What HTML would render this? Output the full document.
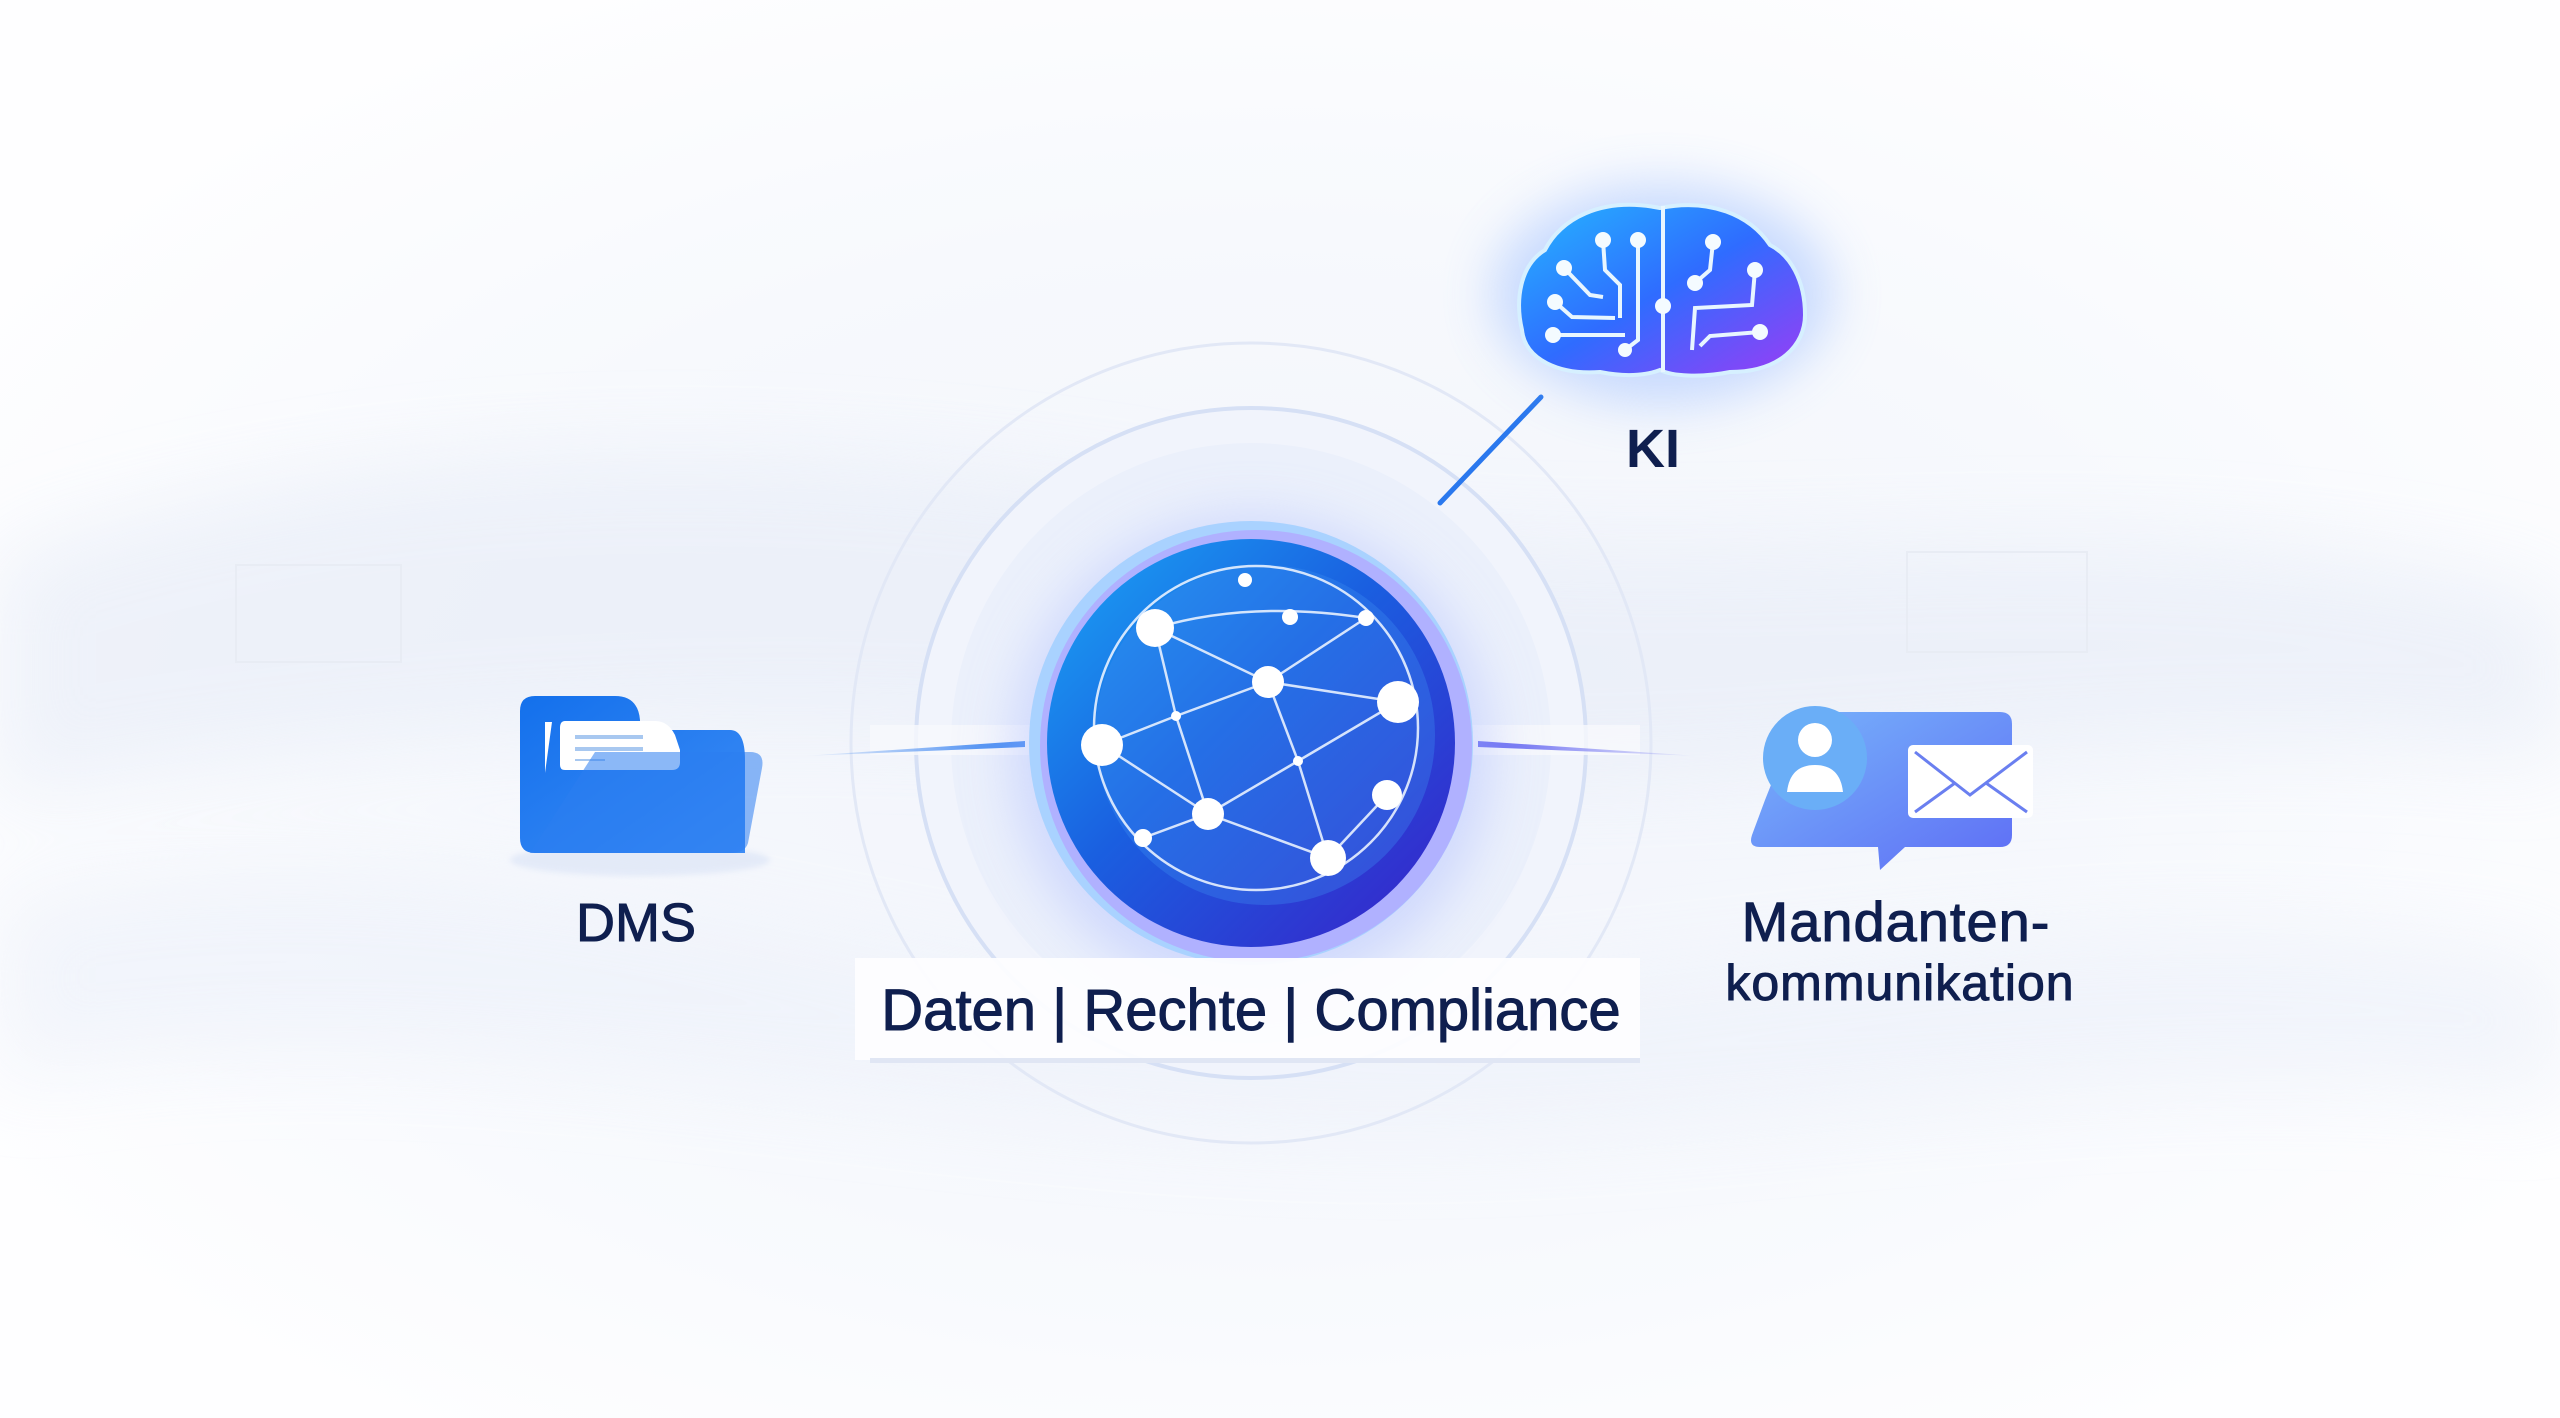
<!DOCTYPE html>
<html><head><meta charset="utf-8"><style>
html,body{margin:0;padding:0;width:2560px;height:1418px;overflow:hidden;background:#fbfcfe;}
svg{display:block}
text{font-family:"Liberation Sans","DejaVu Sans",sans-serif;fill:#0f1f4f;stroke:#0f1f4f;stroke-width:1}
</style></head><body>
<svg width="2560" height="1418" viewBox="0 0 2560 1418" xmlns="http://www.w3.org/2000/svg">
<defs>
<radialGradient id="bg" cx="50%" cy="52%" r="60%">
<stop offset="0" stop-color="#f1f4fb"/><stop offset="0.6" stop-color="#f7f9fd"/><stop offset="1" stop-color="#fefeff"/>
</radialGradient>
<linearGradient id="globe" x1="0" y1="0" x2="1" y2="1">
<stop offset="0" stop-color="#1aa6f5"/><stop offset="0.45" stop-color="#1a5fe0"/><stop offset="1" stop-color="#3a1fc8"/>
</linearGradient>
<linearGradient id="brain" x1="0" y1="0" x2="1" y2="1">
<stop offset="0" stop-color="#25b6ff"/><stop offset="0.5" stop-color="#2f6cff"/><stop offset="1" stop-color="#9b3cf5"/>
</linearGradient>
<linearGradient id="folder" x1="0" y1="0" x2="1" y2="1">
<stop offset="0" stop-color="#1370ec"/><stop offset="1" stop-color="#3d8cf5"/>
</linearGradient>
<linearGradient id="chat" x1="0" y1="0" x2="1" y2="1">
<stop offset="0" stop-color="#78b6fb"/><stop offset="1" stop-color="#5e6df5"/>
</linearGradient>
<linearGradient id="lineL" x1="0" x2="1"><stop offset="0" stop-color="#2d7cf0" stop-opacity="0"/><stop offset="1" stop-color="#2d7cf0"/></linearGradient>
<linearGradient id="lineR" x1="0" x2="1"><stop offset="0" stop-color="#5a5cf0"/><stop offset="1" stop-color="#5a5cf0" stop-opacity="0"/></linearGradient>
<filter id="blur" x="-50%" y="-50%" width="200%" height="200%"><feGaussianBlur stdDeviation="25"/></filter>
<filter id="wblur" x="-20%" y="-50%" width="140%" height="200%"><feGaussianBlur stdDeviation="40"/></filter>
<filter id="sblur"><feGaussianBlur stdDeviation="3"/></filter>
</defs>
<rect width="2560" height="1418" fill="url(#bg)"/>
<g filter="url(#wblur)" opacity="0.7">
<path d="M0 560 C400 420 900 440 1280 520 C1700 600 2100 480 2560 600 L2560 760 C2100 700 1700 820 1280 760 C900 700 400 720 0 800 Z" fill="#e9eef8"/>
<path d="M0 900 C500 800 900 1000 1280 1000 C1700 1000 2100 880 2560 960 L2560 1100 C2100 1040 1700 1150 1280 1130 C800 1110 400 1000 0 1080 Z" fill="#eef2fa"/>
</g>
<rect x="236" y="565" width="165" height="97" fill="none" stroke="#e8ecf4" stroke-width="2"/>
<rect x="1907" y="552" width="180" height="100" fill="none" stroke="#e8ecf4" stroke-width="2"/>

<!-- rings -->
<circle cx="1251" cy="743" r="400" fill="none" stroke="#e2e8f6" stroke-width="3"/>
<circle cx="1251" cy="743" r="335" fill="#f1f4fc" stroke="#d6e0f5" stroke-width="4"/>
<circle cx="1251" cy="743" r="300" fill="#ebf0fb"/>
<rect x="870" y="725" width="770" height="30" fill="#f7f9fd" opacity="0.8"/>

<!-- connectors -->
<path d="M803 756 L1025 741 L1025 747 Z" fill="url(#lineL)"/>
<path d="M1478 741 L1698 756 L1478 747 Z" fill="url(#lineR)"/>
<line x1="1440" y1="503" x2="1541" y2="397" stroke="#2a78ee" stroke-width="5" stroke-linecap="round"/>

<!-- globe -->
<circle cx="1251" cy="755" r="240" fill="#b9c6ff" opacity="0.55" filter="url(#blur)"/>
<circle cx="1251" cy="743" r="222" fill="#a9d2ff"/>
<circle cx="1256" cy="746" r="216" fill="#b59bff" opacity="0.6"/>
<circle cx="1251" cy="743" r="204" fill="url(#globe)"/>
<circle cx="1265" cy="735" r="170" fill="#3d8df0" opacity="0.35"/>
<g stroke="#e8f1ff" stroke-width="2.5" fill="none" opacity="0.9">
<circle cx="1256" cy="728" r="162"/>
<path d="M1155 628 L1268 682 L1366 618"/>
<path d="M1155 628 L1176 716 L1208 814 L1328 858 L1387 795"/>
<path d="M1102 745 L1176 716 L1268 682 L1398 702"/>
<path d="M1268 682 L1298 761 L1328 858"/>
<path d="M1208 814 L1298 761 L1398 702"/>
<path d="M1102 745 L1208 814 L1143 838"/>
<path d="M1155 628 Q1250 600 1366 618"/>
</g>
<g fill="#fff">
<circle cx="1155" cy="628" r="19"/><circle cx="1245" cy="580" r="7"/><circle cx="1290" cy="617" r="8"/><circle cx="1366" cy="618" r="8"/>
<circle cx="1268" cy="682" r="16"/><circle cx="1398" cy="702" r="21"/><circle cx="1102" cy="745" r="21"/><circle cx="1176" cy="716" r="5"/>
<circle cx="1298" cy="761" r="5"/><circle cx="1208" cy="814" r="16"/><circle cx="1387" cy="795" r="15"/><circle cx="1143" cy="838" r="9"/><circle cx="1328" cy="858" r="18"/>
</g>

<!-- label -->
<rect x="855" y="958" width="785" height="102" fill="#fdfdff" opacity="0.95"/>
<rect x="870" y="1058" width="770" height="5" fill="#e0e6f4"/>
<text x="1251" y="1030" font-size="58" text-anchor="middle">Daten | Rechte | Compliance</text>

<!-- brain -->
<ellipse cx="1662" cy="294" rx="170" ry="110" fill="#8fb5ff" opacity="0.45" filter="url(#blur)"/>
<path d="M1660 208 C1600 196 1560 220 1545 250 C1520 265 1515 300 1522 330 C1525 360 1560 375 1600 372 C1630 378 1650 374 1660 370 C1672 376 1700 378 1730 372 C1780 372 1805 345 1805 315 C1805 280 1790 255 1770 245 C1750 215 1710 198 1660 208 Z" fill="url(#brain)" stroke="#d6f0ff" stroke-width="4"/>
<line x1="1663" y1="206" x2="1663" y2="372" stroke="#e8f6ff" stroke-width="4"/>
<g stroke="#e8f6ff" stroke-width="4" fill="none">
<path d="M1603 240 L1605 270 L1620 285 L1620 318"/><path d="M1638 240 L1638 340 L1625 350"/>
<path d="M1564 268 L1590 295 L1603 297"/><path d="M1555 302 L1572 317 L1615 318"/><path d="M1553 335 L1625 335"/>
<path d="M1713 242 L1710 270 L1695 283"/><path d="M1755 270 L1752 305 L1695 308 L1692 350"/><path d="M1760 332 L1710 336 L1700 346"/>
</g>
<g fill="#f4fbff">
<circle cx="1603" cy="240" r="8"/><circle cx="1638" cy="240" r="8"/><circle cx="1564" cy="268" r="8"/><circle cx="1555" cy="302" r="8"/><circle cx="1553" cy="335" r="8"/><circle cx="1625" cy="350" r="7"/><circle cx="1663" cy="306" r="8"/>
<circle cx="1713" cy="242" r="8"/><circle cx="1695" cy="283" r="8"/><circle cx="1755" cy="270" r="8"/><circle cx="1760" cy="332" r="8"/>
</g>
<text x="1653" y="467" font-size="54" text-anchor="middle" font-weight="bold" style="stroke-width:0">KI</text>

<!-- folder -->
<ellipse cx="640" cy="860" rx="130" ry="16" fill="#d3def4" opacity="0.5" filter="url(#sblur)"/>
<path d="M535 696 L615 696 Q638 696 640 720 L640 730 L730 730 Q745 730 745 760 L745 853 L535 853 Q520 853 520 838 L520 711 Q520 696 535 696 Z" fill="url(#folder)"/>
<path d="M545 722 L552 722 L545 773 Z" fill="#fff"/>
<path d="M565 721 L655 721 Q668 721 675 735 L680 750 L680 762 Q680 770 672 770 L565 770 Q560 770 560 765 L560 728 Q560 721 565 721 Z" fill="#fff"/>
<g stroke="#a8c8f0" stroke-width="4"><line x1="575" y1="737" x2="643" y2="737"/><line x1="575" y1="749" x2="643" y2="749"/><line x1="575" y1="760" x2="605" y2="760" stroke-width="2"/></g>
<path d="M595 752 L750 752 Q765 752 762 768 L748 843 Q745 853 730 853 L530 853 Z" fill="#2c7ef0" opacity="0.55"/>
<text x="636" y="941" font-size="54" text-anchor="middle">DMS</text>

<!-- chat/mail -->
<path d="M1800 712 L2000 712 Q2012 712 2012 724 L2012 835 Q2012 847 2000 847 L1905 847 L1880 870 L1878 847 L1760 847 Q1748 847 1752 835 L1765 800 Z" fill="url(#chat)"/>
<circle cx="1815" cy="758" r="52" fill="#6aaef7"/>
<circle cx="1815" cy="740" r="17" fill="#fff"/>
<path d="M1787 792 Q1790 765 1815 765 Q1840 765 1843 792 Z" fill="#fff"/>
<rect x="1908" y="745" width="125" height="73" rx="5" fill="#fff"/>
<path d="M1915 752 L1970 795 L2027 752 M1915 812 L1955 783 M2027 812 L1986 783" stroke="#6a7ff0" stroke-width="3" fill="none"/>
<text x="1896" y="941" font-size="56" text-anchor="middle" letter-spacing="1">Mandanten-</text>
<text x="1900" y="1000" font-size="50" text-anchor="middle" letter-spacing="1">kommunikation</text>
</svg>
</body></html>
